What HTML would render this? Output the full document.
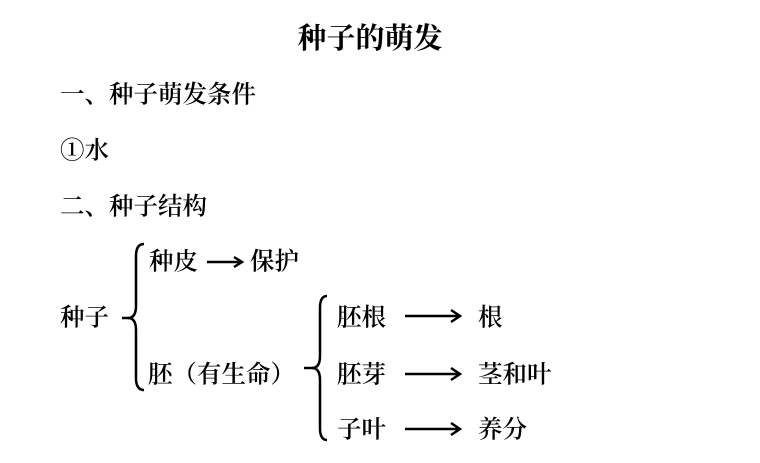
<!DOCTYPE html>
<html><head><meta charset="utf-8"><style>
html,body{margin:0;padding:0;background:#fff;}
svg{display:block;}
text{font-family:"Liberation Serif","Noto Serif CJK SC",serif;font-size:24.5px;font-weight:600;fill:#000;dominant-baseline:central;}
</style></head><body>
<svg width="760" height="463" viewBox="0 0 760 463">
<text x="370" y="39" text-anchor="middle" style="font-size:29px;font-weight:bold">种子的萌发</text>
<text x="60" y="95">一、种子萌发条件</text>
<text x="60" y="151">①水</text>
<text x="60" y="207">二、种子结构</text>
<text x="149" y="262">种皮</text>
<text x="250" y="262">保护</text>
<text x="60" y="318">种子</text>
<text x="148" y="375">胚（有生命）</text>
<text x="337" y="318">胚根</text>
<text x="478" y="318">根</text>
<text x="337" y="375">胚芽</text>
<text x="478" y="375">茎和叶</text>
<text x="337" y="430">子叶</text>
<text x="478" y="430">养分</text>
<g fill="none" stroke="#000" stroke-width="2.5">
<path d="M144 244 Q136 244 136 256 L136 306 Q136 318 128 318 Q136 318 136 330 L136 378 Q136 390 144 390"/>
<path d="M122 318 L130 318"/>
<path d="M327 296 Q320 296 320 308 L320 356 Q320 368 312 368 Q320 368 320 380 L320 428 Q320 440 327 440"/>
<path d="M304 368 L313 368"/>
<path d="M207 262 L242 262 M234 257 L242 262 L234 267"/>
<path d="M405 316 L460 316 M451 310 L460 316 L451 322"/>
<path d="M405 374 L460 374 M451 368 L460 374 L451 380"/>
<path d="M405 429 L460 429 M451 423 L460 429 L451 435"/>
</g>
</svg>
</body></html>
